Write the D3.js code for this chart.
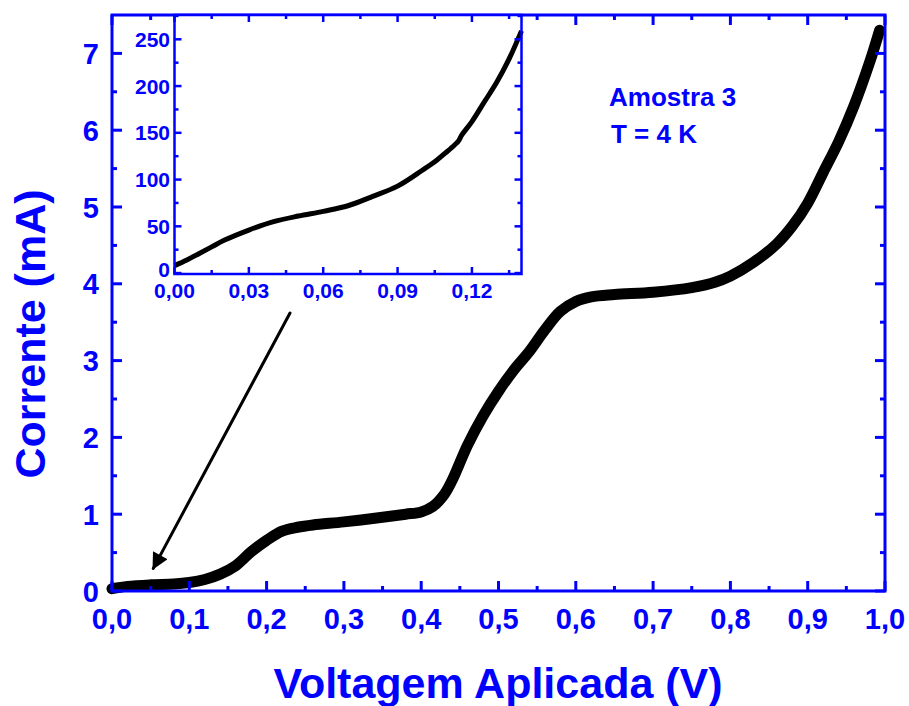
<!DOCTYPE html>
<html><head><meta charset="utf-8">
<script src="https://cdn.jsdelivr.net/npm/d3@7"></script>
<style>
html,body{margin:0;padding:0;background:#fff;}
svg text{font-family:"Liberation Sans",Arial,Helvetica,sans-serif;font-weight:bold;fill:#0000ff;}
</style></head>
<body>
<svg id="chart" width="909" height="706"></svg>
<script>
// ---- main data (V, mA) ----
const voltage = [0, 0.02, 0.05, 0.08, 0.10, 0.12, 0.14, 0.16, 0.18, 0.20, 0.22, 0.24, 0.26, 0.30, 0.35, 0.38, 0.40, 0.415, 0.43, 0.44, 0.46, 0.48, 0.50, 0.52, 0.54, 0.56, 0.58, 0.60, 0.62, 0.65, 0.70, 0.75, 0.78, 0.80, 0.83, 0.86, 0.88, 0.90, 0.92, 0.94, 0.96, 0.98, 0.993];
const current = [0.03, 0.06, 0.08, 0.09, 0.11, 0.15, 0.22, 0.33, 0.51, 0.66, 0.78, 0.83, 0.86, 0.90, 0.96, 1.00, 1.03, 1.10, 1.26, 1.44, 1.90, 2.28, 2.60, 2.88, 3.12, 3.40, 3.64, 3.77, 3.83, 3.86, 3.89, 3.95, 4.02, 4.10, 4.28, 4.52, 4.75, 5.05, 5.45, 5.85, 6.32, 6.88, 7.30];
// ---- inset data (V, µA) ----
const insetVoltage = [0, 0.005, 0.01, 0.015, 0.02, 0.03, 0.04, 0.05, 0.06, 0.07, 0.08, 0.09, 0.10, 0.105, 0.11, 0.113, 0.1145, 0.116, 0.12, 0.125, 0.13, 0.135, 0.14];
const insetCurrent = [8, 14, 21, 28, 35, 46, 55, 61, 66, 72, 82, 93, 110, 119, 130, 137, 141, 148, 162, 183, 204, 229, 259];
// ---- ticks ----
const xTicks = [0, 0.1, 0.2, 0.3, 0.4, 0.5, 0.6, 0.7, 0.8, 0.9, 1.0];
const xTickLabels = ["0,0","0,1","0,2","0,3","0,4","0,5","0,6","0,7","0,8","0,9","1,0"];
const yTicks = [0, 1, 2, 3, 4, 5, 6, 7];
const yTickLabels = ["0","1","2","3","4","5","6","7"];
const insetXTicks = [0, 0.03, 0.06, 0.09, 0.12];
const insetXTickLabels = ["0,00","0,03","0,06","0,09","0,12"];
const insetYTicks = [0, 50, 100, 150, 200, 250];
const insetYTickLabels = ["0","50","100","150","200","250"];
// ---- annotations ----
const annotationText = ["Amostra 3", "T = 4 K"];
const arrowFrom = [0.2303, 3.62];
const arrowTo = [0.0534, 0.295];

const blue = "#0000ff";
const svg = d3.select("#chart");

// main scales
const x = d3.scaleLinear().domain([0, 1]).range([112, 885]);
const y = d3.scaleLinear().domain([0, 7.5]).range([591, 15]);

function minorTicks(a, b, step){ const r=[]; for(let v=a; v<=b+1e-9; v+=step) r.push(+v.toFixed(6)); return r; }

function drawAxes(g, xs, ys, xMaj, yMaj, xMin, yMin, lw, majLen, minLen){
  const [x0,x1]=xs.range(), [y0,y1]=ys.range();
  xMin.forEach(v=>{ const px=xs(v);
    g.append("line").attr("x1",px).attr("x2",px).attr("y1",y0).attr("y2",y0-minLen).attr("stroke",blue).attr("stroke-width",lw);
    g.append("line").attr("x1",px).attr("x2",px).attr("y1",y1).attr("y2",y1+minLen).attr("stroke",blue).attr("stroke-width",lw);});
  xMaj.forEach(v=>{ const px=xs(v);
    g.append("line").attr("x1",px).attr("x2",px).attr("y1",y0).attr("y2",y0-majLen).attr("stroke",blue).attr("stroke-width",lw);
    g.append("line").attr("x1",px).attr("x2",px).attr("y1",y1).attr("y2",y1+majLen).attr("stroke",blue).attr("stroke-width",lw);});
  yMin.forEach(v=>{ const py=ys(v);
    g.append("line").attr("x1",x0).attr("x2",x0+minLen).attr("y1",py).attr("y2",py).attr("stroke",blue).attr("stroke-width",lw);
    g.append("line").attr("x1",x1).attr("x2",x1-minLen).attr("y1",py).attr("y2",py).attr("stroke",blue).attr("stroke-width",lw);});
  yMaj.forEach(v=>{ const py=ys(v);
    g.append("line").attr("x1",x0).attr("x2",x0+majLen).attr("y1",py).attr("y2",py).attr("stroke",blue).attr("stroke-width",lw);
    g.append("line").attr("x1",x1).attr("x2",x1-majLen).attr("y1",py).attr("y2",py).attr("stroke",blue).attr("stroke-width",lw);});
  g.append("rect").attr("x",x0).attr("y",y1).attr("width",x1-x0).attr("height",y0-y1)
    .attr("fill","none").attr("stroke",blue).attr("stroke-width",lw);
}

// main curve
const line = d3.line().x((d,i)=>x(voltage[i])).y((d,i)=>y(current[i])).curve(d3.curveCatmullRom.alpha(0.5));
svg.append("path").attr("d", line(voltage)).attr("fill","none").attr("stroke","#000")
  .attr("stroke-width",11).attr("stroke-linecap","round").attr("stroke-linejoin","round");

const gMain = svg.append("g");
drawAxes(gMain, x, y, xTicks, yTicks, minorTicks(0.05,0.95,0.1), minorTicks(0.5,7.0,1), 3, 10, 5);

// main tick labels
svg.append("g").selectAll("text").data(xTicks).join("text")
  .attr("x",d=>x(d)).attr("y",629).attr("text-anchor","middle").attr("font-size",29)
  .text((d,i)=>xTickLabels[i]);
svg.append("g").selectAll("text").data(yTicks).join("text")
  .attr("x",99).attr("y",d=>y(d)+10.5).attr("text-anchor","end").attr("font-size",29)
  .text((d,i)=>yTickLabels[i]);

// axis titles
svg.append("text").attr("x",498).attr("y",698).attr("text-anchor","middle").attr("font-size",43)
  .text("Voltagem Aplicada (V)");
svg.append("text").attr("transform","translate(45,334) rotate(-90)").attr("text-anchor","middle").attr("font-size",43)
  .text("Corrente (mA)");

// annotation text
svg.append("text").attr("x",609).attr("y",106).attr("font-size",26).text(annotationText[0]);
svg.append("text").attr("x",611).attr("y",143).attr("font-size",26).text(annotationText[1]);

// arrow
svg.append("defs").append("marker").attr("id","ah").attr("viewBox","0 0 10 10").attr("refX",9).attr("refY",5)
  .attr("markerWidth",7.5).attr("markerHeight",5.5).attr("markerUnits","strokeWidth").attr("orient","auto")
  .append("path").attr("d","M0,0 L10,5 L0,10 z").attr("fill","#000");
svg.append("line").attr("x1",x(arrowFrom[0])).attr("y1",y(arrowFrom[1])).attr("x2",x(arrowTo[0])).attr("y2",y(arrowTo[1]))
  .attr("stroke","#000").attr("stroke-width",3).attr("stroke-linecap","round").attr("marker-end","url(#ah)");

// ---- inset ----
const ix = d3.scaleLinear().domain([0, 0.14]).range([174.5, 521.5]);
const iy = d3.scaleLinear().domain([-1, 276]).range([274, 15]);
svg.append("rect").attr("x",174.5).attr("y",15).attr("width",347).attr("height",259).attr("fill","#fff");
const iline = d3.line().x((d,i)=>ix(insetVoltage[i])).y((d,i)=>iy(insetCurrent[i])).curve(d3.curveCatmullRom.alpha(0.5));
svg.append("path").attr("d", iline(insetVoltage)).attr("fill","none").attr("stroke","#000")
  .attr("stroke-width",5).attr("stroke-linecap","butt");
const gIn = svg.append("g");
drawAxes(gIn, ix, iy, insetXTicks, insetYTicks, minorTicks(0.015,0.135,0.03), minorTicks(25,275,50), 2.5, 7, 4);
svg.append("g").selectAll("text").data(insetXTicks).join("text")
  .attr("x",d=>ix(d)).attr("y",298).attr("text-anchor","middle").attr("font-size",21)
  .text((d,i)=>insetXTickLabels[i]);
svg.append("g").selectAll("text").data(insetYTicks).join("text")
  .attr("x",170).attr("y",d=>iy(d)+(d===0?3.5:7.5)).attr("text-anchor","end").attr("font-size",21)
  .text((d,i)=>insetYTickLabels[i]);
</script>
</body></html>
